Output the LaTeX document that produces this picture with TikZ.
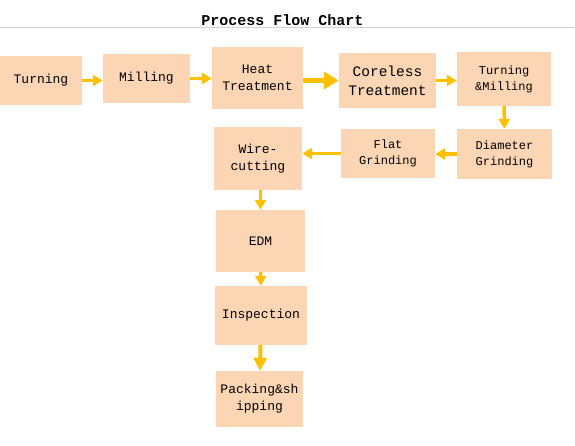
\documentclass[tikz,border=0pt]{standalone}
\usepackage{fontspec}
\setmainfont{Liberation Mono}
\usetikzlibrary{arrows.meta}
\definecolor{peach}{HTML}{FCD5B4}
\definecolor{amber}{HTML}{FFC000}
\tikzstyle{stage}=[rectangle, fill=peach, inner sep=0pt, align=center, font=\fontsize{13}{17}\selectfont]
\tikzstyle{big}=[line width=5pt, -{Triangle[length=15pt,width=17pt]}]
\newcommand{\stage}{\node[stage]}

\begin{document}
\begin{tikzpicture}[x=1pt, y=-1pt
    ,every edge/.style={
        draw=amber, line width=3.5pt,
        -{Triangle[length=10pt,width=11pt]}}
]
\useasboundingbox (0,0) rectangle (575,445);
\node[font=\fontsize{15}{18}\selectfont\bfseries, anchor=base] (title) at (282.5,25) {Process Flow Chart};
\coordinate (rulel) at (0,27.5);
\coordinate (ruler) at (575,27.5);
\draw[black!18, line width=1pt] (rulel) -- (ruler);
\stage[minimum width=82pt, minimum height=49pt] (turn) at (41,80.5) {Turning};
\stage[minimum width=87pt, minimum height=49pt] (mill) at (146.5,78.5) {Milling};
\stage[minimum width=91pt, minimum height=62pt] (heat) at (257.5,78) {Heat\\Treatment};
\stage[minimum width=97pt, minimum height=55pt, font=\fontsize{14.5}{19}\selectfont] (core) at (387.5,80.5) {Coreless\\Treatment};
\stage[minimum width=94pt, minimum height=54pt, font=\fontsize{12}{16}\selectfont] (tmill) at (504,79) {Turning\\\&Milling};
\stage[minimum width=95pt, minimum height=50pt, font=\fontsize{12}{16}\selectfont] (diam) at (504.5,154) {Diameter\\Grinding};
\stage[minimum width=94pt, minimum height=49pt, font=\fontsize{12}{16}\selectfont] (flat) at (388,153.5) {Flat\\Grinding};
\stage[minimum width=88pt, minimum height=63pt] (wire) at (258,158.5) {Wire-\\cutting};
\stage[minimum width=89pt, minimum height=62pt] (edm) at (260.5,241) {EDM};
\stage[minimum width=92pt, minimum height=59pt] (insp) at (261,315.5) {Inspection};
\stage[minimum width=87pt, minimum height=56pt] (pack) at (259.5,399) {Packing\&sh\\ipping};
\path
(turn) edge (turn.east -| mill.west)
(mill.east) edge (mill.east -| heat.west)
(heat.east |- core) edge[big] (core)
(core.east) edge (core.east -| tmill.west)
(tmill) edge (diam)
(diam.west) edge (diam.west -| flat.east)
(flat.west) edge (flat.west -| wire.east)
(wire.south -| edm) edge (edm)
(edm) edge (insp)
(insp) edge[line width=4pt, -{Triangle[length=13pt,width=13pt]}] (pack)
;
\end{tikzpicture}
\end{document}
